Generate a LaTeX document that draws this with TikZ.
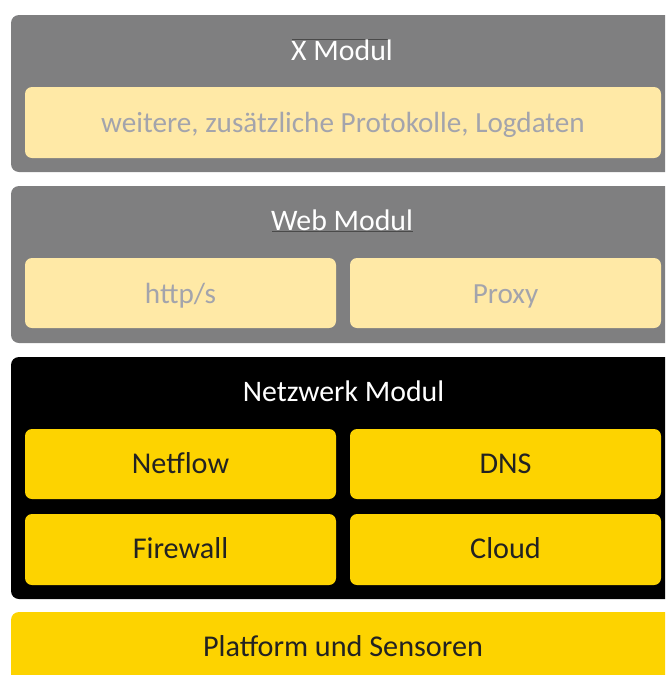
\documentclass[tikz,border=0pt]{standalone}
\usepackage{fontspec}
\setmainfont{Carlito}
\definecolor{modgray}{HTML}{7F7F80}
\definecolor{lightyel}{HTML}{FFE9A6}
\definecolor{yel}{HTML}{FDD300}
\definecolor{fainttext}{HTML}{A3A4AC}
\definecolor{darktext}{HTML}{222222}
\definecolor{artline}{HTML}{4A4A4A}
\tikzset{
  outerbox/.style={rounded corners=8pt},
  innerbox/.style={rounded corners=7pt},
  title/.style={anchor=base, text=white, font=\fontsize{29.8}{34}\selectfont, inner sep=0pt},
  faint/.style={anchor=base, text=fainttext, font=\fontsize{29.2}{34}\selectfont, inner sep=0pt},
  dark/.style={anchor=base, text=darktext, font=\fontsize{30.2}{34}\selectfont, inner sep=0pt},
}
\begin{document}
\begin{tikzpicture}[x=1pt,y=-1pt]
\useasboundingbox (0,0) rectangle (665,675);
\clip (0,0) rectangle (665,675);
% outer modules
\fill[modgray, outerbox] (11,15) rectangle (675,172);
\fill[modgray, outerbox] (11,186) rectangle (675,343);
\fill[black, outerbox] (11,357) rectangle (675,599);
\fill[yel, outerbox] (11,612) rectangle (675,700);
% inner boxes
\fill[lightyel, innerbox] (25,87) rectangle (661,158);
\fill[lightyel, innerbox] (25,258) rectangle (336,328);
\fill[lightyel, innerbox] (350,258) rectangle (661,328);
\fill[yel, innerbox] (25,429) rectangle (336,499);
\fill[yel, innerbox] (350,429) rectangle (661,499);
\fill[yel, innerbox] (25,514) rectangle (336,585);
\fill[yel, innerbox] (350,514) rectangle (661,585);
% faint artifact lines
\draw[artline, line width=0.8pt] (292,39.5) -- (390,39.5);
\draw[artline, line width=0.8pt] (272,231) -- (413,231);
% texts
\node[title] (xmod) at (342,60) {X Modul};
\node[faint] (xin) at (343,132) {weitere, zusätzliche Protokolle, Logdaten};
\node[title] (webmod) at (342,230) {Web Modul};
\node[faint] (http) at (180.5,303) {http/s};
\node[faint] (proxy) at (505.5,303) {Proxy};
\node[title] (netmod) at (343.5,401) {Netzwerk Modul};
\node[dark] (netflow) at (180.5,473) {Netflow};
\node[dark] (dns) at (505.5,473) {DNS};
\node[dark] (firewall) at (180.5,558) {Firewall};
\node[dark] (cloud) at (505.5,558) {Cloud};
\node[dark] (platform) at (343,656) {Platform und Sensoren};
\end{tikzpicture}
\end{document}
